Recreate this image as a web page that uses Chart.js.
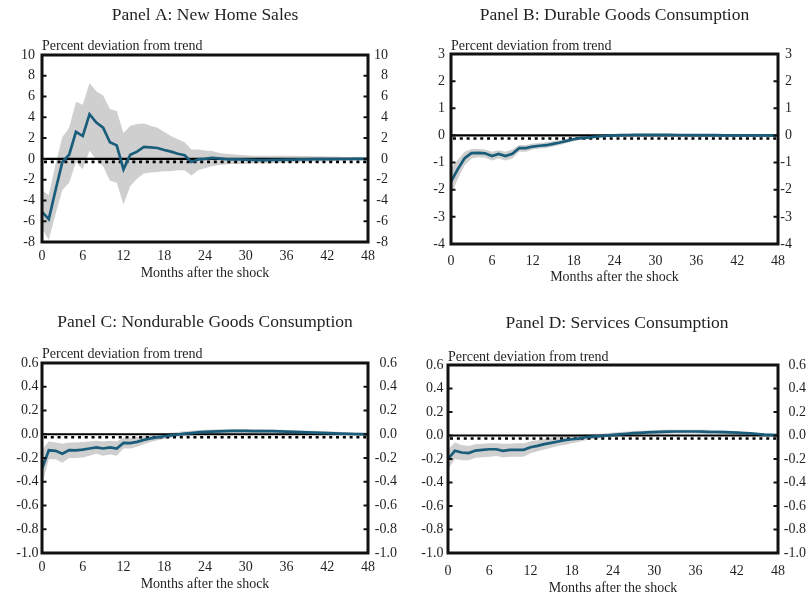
<!DOCTYPE html>
<html>
<head>
<meta charset="utf-8">
<script src="https://cdn.jsdelivr.net/npm/chart.js@4.4.1/dist/chart.umd.min.js"></script>
<style>
  html, body { margin: 0; padding: 0; background: #fff; }
  #wrap { position: relative; width: 809px; height: 600px; overflow: hidden; }
  #wrap canvas { position: absolute; }
</style>
</head>
<body>
<div id="wrap">
  <canvas id="panelA" width="404" height="300" style="left:0;top:0"></canvas>
  <canvas id="panelB" width="405" height="300" style="left:404px;top:0"></canvas>
  <canvas id="panelC" width="404" height="300" style="left:0;top:300px"></canvas>
  <canvas id="panelD" width="405" height="300" style="left:404px;top:300px"></canvas>
</div>
<script>
// Impulse responses, months 0..48 after the shock (percent deviation from trend)
const months = [0,1,2,3,4,5,6,7,8,9,10,11,12,13,14,15,16,17,18,19,20,21,22,23,24,
  25,26,27,28,29,30,31,32,33,34,35,36,37,38,39,40,41,42,43,44,45,46,47,48];
const xTicks = [0, 6, 12, 18, 24, 30, 36, 42, 48];

const panelTitles = ['Panel A: New Home Sales', 'Panel B: Durable Goods Consumption',
  'Panel C: Nondurable Goods Consumption', 'Panel D: Services Consumption'];
const unitLabel = 'Percent deviation from trend';
const xAxisLabel = 'Months after the shock';

// Panel A: new home sales
const homeSales = [-5.1,-5.8,-3.0,-0.3,0.4,2.6,2.2,4.3,3.5,3.0,1.6,1.3,-1.0,0.4,0.7,1.15,1.1,1.05,0.85,0.7,
  0.5,0.35,-0.3,-0.05,0.0,0.1,0.05,-0.02,-0.05,-0.05,-0.07,-0.1,-0.12,-0.12,-0.1,-0.1,-0.08,-0.07,-0.05,
  -0.05,-0.03,-0.02,-0.02,-0.02,-0.01,-0.01,0.0,0.0,0.0];
const homeSalesHigh = [-3.0,-3.5,-0.5,2.1,3.0,5.5,5.2,7.3,6.5,6.1,4.8,4.6,2.5,3.2,3.35,3.4,3.2,3.0,2.6,2.2,
  1.9,1.6,0.9,0.9,0.8,0.75,0.6,0.5,0.45,0.4,0.35,0.3,0.3,0.3,0.3,0.3,0.3,0.3,0.28,0.27,0.26,0.25,0.24,
  0.22,0.2,0.18,0.16,0.15,0.14];
const homeSalesLow = [-6.7,-7.8,-5.3,-3.0,-2.3,-0.3,-1.0,0.8,-0.1,-0.7,-2.1,-2.3,-4.4,-2.6,-1.9,-1.4,-1.3,
  -1.25,-1.2,-1.2,-1.1,-1.1,-1.6,-1.1,-0.9,-0.7,-0.6,-0.55,-0.5,-0.48,-0.46,-0.45,-0.45,-0.45,-0.42,-0.4,
  -0.38,-0.35,-0.32,-0.3,-0.28,-0.26,-0.24,-0.22,-0.2,-0.18,-0.16,-0.15,-0.14];
const homeSalesTicks = [10, 8, 6, 4, 2, 0, -2, -4, -6, -8];

// Panel B: durable goods consumption
const durables = [-1.7,-1.24,-0.84,-0.65,-0.64,-0.66,-0.76,-0.68,-0.76,-0.68,-0.47,-0.47,-0.41,-0.38,-0.36,
  -0.31,-0.26,-0.2,-0.14,-0.1,-0.08,-0.05,-0.03,-0.01,0.0,0.01,0.015,0.02,0.02,0.02,0.02,0.02,0.02,0.015,
  0.015,0.01,0.01,0.01,0.01,0.01,0.005,0.005,0.005,0.005,0.005,0.0,0.0,0.0,0.0];
const durablesHigh = [-1.2,-0.9,-0.6,-0.5,-0.5,-0.52,-0.6,-0.55,-0.6,-0.52,-0.35,-0.35,-0.3,-0.28,-0.25,
  -0.21,-0.17,-0.12,-0.08,-0.05,-0.03,-0.01,0.02,0.04,0.05,0.06,0.06,0.06,0.06,0.06,0.06,0.06,0.06,0.06,
  0.05,0.05,0.05,0.05,0.05,0.05,0.04,0.04,0.04,0.04,0.04,0.03,0.03,0.03,0.03];
const durablesLow = [-2.2,-1.6,-1.1,-0.85,-0.8,-0.82,-0.92,-0.85,-0.92,-0.85,-0.6,-0.6,-0.52,-0.48,-0.46,
  -0.41,-0.35,-0.28,-0.21,-0.16,-0.13,-0.09,-0.07,-0.05,-0.04,-0.03,-0.02,-0.02,-0.02,-0.02,-0.02,-0.02,
  -0.02,-0.02,-0.02,-0.03,-0.03,-0.03,-0.03,-0.03,-0.03,-0.03,-0.03,-0.03,-0.03,-0.03,-0.03,-0.03,-0.03];
const durablesTicks = [3, 2, 1, 0, -1, -2, -3, -4];

// Panel C: nondurable goods consumption
const nondurables = [-0.29,-0.135,-0.14,-0.164,-0.133,-0.135,-0.13,-0.12,-0.11,-0.12,-0.11,-0.12,-0.073,
  -0.075,-0.064,-0.047,-0.035,-0.026,-0.017,-0.01,-0.002,0.005,0.01,0.015,0.02,0.022,0.024,0.026,0.028,
  0.028,0.028,0.027,0.027,0.027,0.027,0.025,0.022,0.02,0.018,0.016,0.014,0.012,0.01,0.008,0.006,0.004,
  0.002,0.001,0.0];
const nondurablesHigh = [-0.13,-0.06,-0.07,-0.08,-0.07,-0.07,-0.065,-0.06,-0.055,-0.06,-0.055,-0.06,-0.03,
  -0.03,-0.025,-0.015,-0.008,-0.003,0.005,0.012,0.02,0.025,0.03,0.035,0.038,0.04,0.042,0.042,0.042,0.042,
  0.042,0.042,0.042,0.04,0.04,0.038,0.036,0.034,0.032,0.03,0.03,0.028,0.026,0.024,0.02,0.018,0.015,0.012,
  0.01];
const nondurablesLow = [-0.43,-0.21,-0.21,-0.24,-0.2,-0.2,-0.195,-0.18,-0.165,-0.18,-0.17,-0.18,-0.12,-0.12,
  -0.105,-0.085,-0.065,-0.05,-0.04,-0.03,-0.02,-0.014,-0.01,-0.005,0.0,0.003,0.006,0.008,0.008,0.008,0.008,
  0.008,0.008,0.008,0.008,0.007,0.006,0.005,0.004,0.002,0.0,-0.002,-0.004,-0.005,-0.006,-0.008,-0.009,
  -0.01,-0.01];
const shareTicks = [0.6, 0.4, 0.2, 0.0, -0.2, -0.4, -0.6, -0.8, -1.0];

// Panel D: services consumption
const services = [-0.2,-0.13,-0.145,-0.15,-0.128,-0.122,-0.117,-0.117,-0.13,-0.122,-0.122,-0.122,-0.1,
  -0.088,-0.074,-0.063,-0.051,-0.04,-0.032,-0.026,-0.015,-0.009,-0.006,0.0,0.005,0.01,0.015,0.02,0.023,
  0.026,0.029,0.031,0.033,0.034,0.034,0.034,0.034,0.033,0.03,0.03,0.029,0.026,0.024,0.021,0.018,0.013,
  0.008,0.005,0.003];
const servicesHigh = [-0.12,-0.06,-0.08,-0.09,-0.075,-0.07,-0.065,-0.065,-0.07,-0.07,-0.065,-0.065,-0.05,
  -0.04,-0.03,-0.02,-0.01,-0.005,0.0,0.005,0.008,0.012,0.015,0.02,0.025,0.03,0.035,0.038,0.04,0.043,0.045,
  0.048,0.05,0.05,0.05,0.05,0.05,0.05,0.048,0.046,0.044,0.04,0.037,0.033,0.03,0.025,0.02,0.015,0.01];
const servicesLow = [-0.29,-0.2,-0.21,-0.21,-0.19,-0.185,-0.18,-0.175,-0.185,-0.18,-0.18,-0.18,-0.15,-0.135,
  -0.12,-0.105,-0.09,-0.08,-0.065,-0.055,-0.04,-0.03,-0.025,-0.015,-0.01,-0.005,0.0,0.004,0.008,0.01,0.012,
  0.014,0.015,0.016,0.016,0.016,0.016,0.015,0.013,0.012,0.012,0.01,0.009,0.008,0.006,0.003,0.0,-0.003,
  -0.005];

const FONT = '"Liberation Serif", "Times New Roman", serif';
const INK = '#231f20';
const LINE = '#195d7b';
const BAND = '#cfcfcf';

// Frame, inward ticks, zero reference and panel texts
const panelDecor = {
  id: 'panelDecor',
  beforeDatasetDraw(chart, args) {
    if (args.index !== 0) return;
    const { ctx, chartArea: a, scales: { x, y } } = chart;
    const y0 = y.getPixelForValue(0);
    const step = x.getPixelForValue(1) - x.getPixelForValue(0);
    ctx.save();
    ctx.beginPath();
    ctx.rect(a.left, a.top, a.right - a.left, a.bottom - a.top);
    ctx.clip();
    ctx.strokeStyle = '#000';
    ctx.lineWidth = 2.2;
    ctx.beginPath();
    ctx.moveTo(a.left, y0);
    ctx.lineTo(a.right, y0);
    ctx.stroke();
    ctx.setLineDash([3, step - 3]);
    ctx.lineDashOffset = -2;
    ctx.lineWidth = 2.6;
    ctx.beginPath();
    ctx.moveTo(a.left, y0 + 3);
    ctx.lineTo(a.right, y0 + 3);
    ctx.stroke();
    ctx.restore();
  },
  afterDraw(chart, args, opts) {
    const { ctx, chartArea: a, scales: { y } } = chart;
    ctx.save();
    ctx.strokeStyle = '#111';
    ctx.lineWidth = 3;
    ctx.strokeRect(a.left, a.top, a.right - a.left, a.bottom - a.top);
    ctx.lineWidth = 2;
    y.ticks.forEach(t => {
      const py = y.getPixelForValue(t.value);
      if (py <= a.top + 2 || py >= a.bottom - 2) return;
      ctx.beginPath();
      ctx.moveTo(a.left, py); ctx.lineTo(a.left + 4.5, py);
      ctx.moveTo(a.right - 4.5, py); ctx.lineTo(a.right, py);
      ctx.stroke();
    });
    const cx = (a.left + a.right) / 2;
    ctx.fillStyle = INK;
    ctx.textBaseline = 'alphabetic';
    ctx.font = '17.5px ' + FONT;
    ctx.textAlign = 'center';
    ctx.fillText(opts.title, cx + (opts.titleShift || 0), opts.titleY);
    ctx.font = '14px ' + FONT;
    ctx.textAlign = 'left';
    ctx.fillText(unitLabel, a.left, opts.unitY);
    ctx.textAlign = 'center';
    ctx.fillText(xAxisLabel, cx, opts.xTitleY);
    ctx.restore();
  }
};

function buildPanel(id, d, L) {
  const pts = vals => months.map((m, i) => ({ x: m, y: vals[i] }));
  const tickFont = { family: FONT, size: 14 };
  const fmt = v => {
    const hit = d.ticks.find(t => Math.abs(t - v) < 1e-6);
    if (hit === undefined) return '';
    return d.decimals ? hit.toFixed(d.decimals) : String(hit);
  };
  const yMin = d.ticks[d.ticks.length - 1], yMax = d.ticks[0];
  const step = d.ticks[0] - d.ticks[1];
  return new Chart(document.getElementById(id), {
    type: 'line',
    data: {
      datasets: [
        { data: pts(d.values), borderColor: LINE, borderWidth: 2.7, pointRadius: 0, fill: false, tension: 0 },
        { data: pts(d.high), borderColor: 'rgba(0,0,0,0)', borderWidth: 1, pointRadius: 0, fill: '+1', backgroundColor: BAND },
        { data: pts(d.low), borderColor: 'rgba(0,0,0,0)', borderWidth: 1, pointRadius: 0, fill: false }
      ]
    },
    plugins: [panelDecor],
    options: {
      responsive: false,
      animation: false,
      devicePixelRatio: 1,
      layout: { padding: { top: L.t, left: 0, right: L.w - L.labelRight, bottom: 0 } },
      plugins: {
        legend: { display: false },
        tooltip: { enabled: false },
        panelDecor: { title: d.title, titleY: L.titleY, unitY: L.unitY, xTitleY: L.xTitleY, titleShift: L.titleShift }
      },
      scales: {
        x: {
          type: 'linear', min: 0, max: 48,
          afterBuildTicks: s => { s.ticks = xTicks.map(v => ({ value: v })); },
          ticks: { font: tickFont, color: INK, padding: L.xPad, maxRotation: 0, autoSkip: false },
          grid: { display: false, drawTicks: false },
          border: { display: false },
          afterFit: s => { s.height = L.h - L.b; }
        },
        y: {
          position: 'left', min: yMin, max: yMax,
          ticks: { stepSize: step, font: tickFont, color: INK, padding: L.yPad, callback: fmt },
          grid: { display: false, drawTicks: false },
          border: { display: false },
          afterFit: s => { s.width = L.l; }
        },
        y2: {
          position: 'right', min: yMin, max: yMax,
          ticks: { stepSize: step, font: tickFont, color: INK, padding: 0, crossAlign: 'far', callback: fmt },
          grid: { display: false, drawTicks: false },
          border: { display: false },
          afterFit: s => { s.width = L.labelRight - L.r; }
        }
      }
    }
  });
}

buildPanel('panelA',
  { title: panelTitles[0], values: homeSales, high: homeSalesHigh, low: homeSalesLow, ticks: homeSalesTicks, decimals: 0 },
  { w: 404, h: 300, l: 42, t: 55, r: 368, b: 242, labelRight: 388, yPad: 7, xPad: 6, titleY: 20, unitY: 49.5, xTitleY: 276.5 });
buildPanel('panelB',
  { title: panelTitles[1], values: durables, high: durablesHigh, low: durablesLow, ticks: durablesTicks, decimals: 0 },
  { w: 405, h: 300, l: 47, t: 54, r: 374, b: 244, labelRight: 388, yPad: 6, xPad: 9, titleY: 20, unitY: 49.5, xTitleY: 281 });
buildPanel('panelC',
  { title: panelTitles[2], values: nondurables, high: nondurablesHigh, low: nondurablesLow, ticks: shareTicks, decimals: 1 },
  { w: 404, h: 300, l: 42, t: 63, r: 368, b: 253, labelRight: 397, yPad: 3.5, xPad: 6, titleY: 26.5, unitY: 57.5, xTitleY: 288.3 });
buildPanel('panelD',
  { title: panelTitles[3], values: services, high: servicesHigh, low: servicesLow, ticks: shareTicks, decimals: 1 },
  { w: 405, h: 300, l: 44, t: 65, r: 374, b: 253, labelRight: 402, yPad: 4.5, xPad: 10, titleY: 27.5, unitY: 61, xTitleY: 292.3, titleShift: 4 });
</script>
</body>
</html>
